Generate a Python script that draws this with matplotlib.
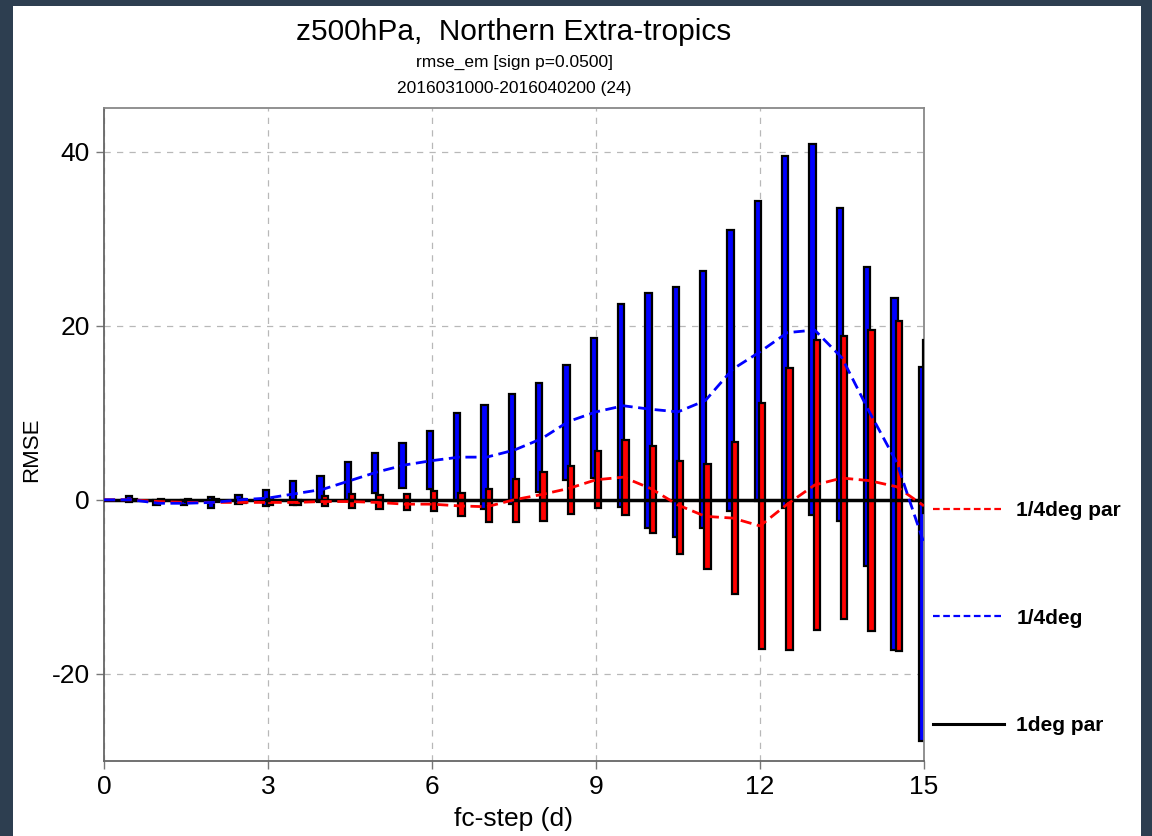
import numpy as np
import matplotlib
matplotlib.use("Agg")
import matplotlib.pyplot as plt
from matplotlib import font_manager
from matplotlib.patches import Rectangle
from matplotlib.lines import Line2D

# forecast steps (days)
lead = [0.0, 0.5, 1.0, 1.5, 2.0, 2.5, 3.0, 3.5, 4.0, 4.5, 5.0, 5.5, 6.0, 6.5, 7.0, 7.5,
        8.0, 8.5, 9.0, 9.5, 10.0, 10.5, 11.0, 11.5, 12.0, 12.5, 13.0, 13.5, 14.0, 14.5, 15.0]

# rmse differences (lines)
rmse_q_par = [0.0, 0.0, -0.2, -0.3, -0.3, -0.3, -0.3, -0.3, -0.2, -0.2, -0.3, -0.5, -0.5, -0.7, -0.8, 0.0,
              0.6, 1.3, 2.3, 2.6, 1.3, -0.6, -1.9, -2.1, -3.0, -0.5, 1.7, 2.5, 2.2, 1.5, -0.7]
rmse_q = [0.0, 0.0, -0.4, -0.4, -0.3, 0.0, 0.2, 0.7, 1.2, 2.2, 3.2, 4.0, 4.5, 4.9, 4.9, 5.7,
          7.0, 9.0, 10.1, 10.8, 10.4, 10.1, 11.4, 15.0, 17.0, 19.2, 19.5, 16.3, 10.1, 4.3, -5.0]
rmse_1deg = [0.0] * len(lead)

# significance ranges (bars), for lead[1:]
q_lo = [-0.3, -0.6, -0.6, -0.9, -0.5, -0.7, -0.6, -0.2, 0.0, 0.8, 1.4, 1.2, -0.1, -1.0, -0.5,
        0.9, 2.3, 2.5, -0.8, -3.2, -4.3, -3.2, -1.3, -0.1, -0.9, -1.8, -2.4, -7.6, -17.3, -27.7]
q_hi = [0.4, 0.0, 0.0, 0.3, 0.6, 1.1, 2.2, 2.7, 4.3, 5.4, 6.5, 7.9, 10.0, 10.9, 12.2,
        13.4, 15.5, 18.6, 22.5, 23.7, 24.4, 26.3, 31.0, 34.3, 39.5, 40.9, 33.5, 26.7, 23.2, 15.3]
qp_lo = [-0.1, -0.2, -0.3, -0.3, -0.4, -0.6, -0.6, -0.7, -0.9, -1.1, -1.2, -1.3, -1.9, -2.6, -2.5,
         -2.4, -1.6, -0.9, -1.7, -3.8, -6.2, -8.0, -10.8, -17.1, -17.2, -15.0, -13.7, -15.1, -17.4, -1.5]
qp_hi = [0.1, 0.1, 0.1, 0.1, 0.1, 0.1, 0.0, 0.4, 0.7, 0.5, 0.7, 1.0, 0.8, 1.2, 2.4,
         3.2, 3.9, 5.6, 6.9, 6.2, 4.5, 4.1, 6.6, 11.1, 15.1, 18.4, 18.8, 19.5, 20.5, 18.4]

avail = {f.name for f in font_manager.fontManager.ttflist}
narrow = "Liberation Sans Narrow" if "Liberation Sans Narrow" in avail else "Liberation Sans"
plt.rcParams["font.family"] = [narrow, "DejaVu Sans"]
plt.rcParams["axes.unicode_minus"] = False

fig = plt.figure(figsize=(11.52, 8.36), dpi=100)
fig.patch.set_facecolor("#2d3e50")
fig.patches.append(Rectangle((13 / 1152, 0), 1128 / 1152, 830 / 836, transform=fig.transFigure,
                             facecolor="white", edgecolor="none", zorder=-10))

ax = fig.add_axes([104 / 1152, 1 - 761 / 836, 820 / 1152, 653 / 836])
ax.set_zorder(1)

bar_x = np.array(lead[1:])
w = 0.12
ax.bar(bar_x - 0.04, np.array(q_hi) - np.array(q_lo), bottom=q_lo, width=w,
       color="#0000ff", edgecolor="black", linewidth=1.6, zorder=2)
ax.bar(bar_x + 0.04, np.array(qp_hi) - np.array(qp_lo), bottom=qp_lo, width=w,
       color="#ff0000", edgecolor="black", linewidth=1.6, zorder=3)

ax.plot(lead, rmse_q_par, color="#ff0000", ls=(0, (4, 2)), lw=2, zorder=5)
ax.plot(lead, rmse_q, color="#0000ff", ls=(0, (4, 2)), lw=2, zorder=5)
ax.plot(lead, rmse_1deg, color="black", lw=2.5, zorder=4)

ax.set_xlim(0, 15)
ax.set_ylim(-30, 45)
ax.set_xticks([0, 3, 6, 9, 12, 15])
ax.set_yticks([-20, 0, 20, 40])
ax.grid(True, color="#b8b8b8", ls=(0, (5, 5)), lw=0.9, zorder=0)
ax.set_axisbelow(True)
ax.tick_params(direction="out", length=6, width=1, color="#777777", labelsize=19, pad=4)
for s in ax.spines.values():
    s.set_color("#888888")
    s.set_linewidth(1.3)
ax.spines["left"].set_color("#666666")
ax.spines["bottom"].set_color("#666666")

ax.set_xlabel("fc-step (d)", fontsize=19, labelpad=6)
ax.set_ylabel("RMSE", fontsize=16)
ax.yaxis.set_label_coords(-0.0756, 0.476)

cx = 514 / 1152
fig.text(cx, 1 - 32 / 836, "z500hPa,  Northern Extra-tropics", ha="center", va="center", fontsize=21.5)
fig.text(cx, 1 - 62 / 836, "rmse_em [sign p=0.0500]", ha="center", va="center", fontsize=12.5)
fig.text(cx, 1 - 89 / 836, "2016031000-2016040200 (24)", ha="center", va="center", fontsize=12.5)

handles = [Line2D([], [], color="#ff0000", lw=1.6, ls=(0, (3, 1.6)), label="1/4deg par"),
           Line2D([], [], color="#0000ff", lw=1.6, ls=(0, (3, 1.6)), label="1/4deg"),
           Line2D([], [], color="black", lw=2.2, label="1deg par")]
fig.legend(handles=handles, loc="upper left", bbox_to_anchor=(933 / 1152, 1 - 501 / 836),
           frameon=False, handlelength=3.4, handletextpad=0.6, labelspacing=4.25,
           borderpad=0, borderaxespad=0,
           prop={"family": "Liberation Sans", "weight": "bold", "size": 15})

fig.savefig("out.png", dpi=100, facecolor=fig.get_facecolor())
